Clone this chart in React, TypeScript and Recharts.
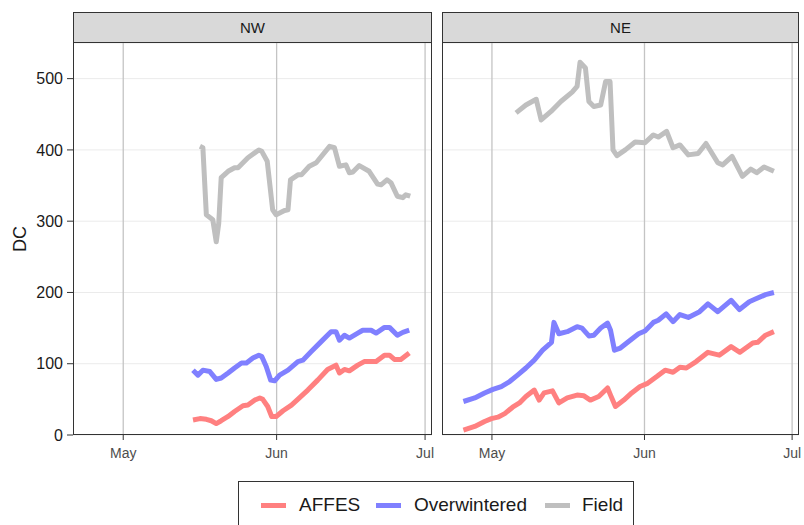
import { LineChart, Line, XAxis, YAxis, CartesianGrid, ReferenceLine } from "recharts";

// x = days after 1 May, y = DC
const monthTicks = [0, 31, 61];
const monthLabels = ["May", "Jun", "Jul"];
const dcTicks = [0, 100, 200, 300, 400, 500];

const nwAffes: [number, number][] = [
  [14.1, 21], [15.5, 23], [16.8, 22], [17.8, 20], [18.8, 16], [19.8, 20], [21.2, 26],
  [22.5, 33], [24.2, 41], [25.2, 42], [26.6, 49], [27.6, 52], [28.2, 50], [29.2, 40],
  [30, 26], [30.9, 26], [32.3, 34], [34, 42], [35.6, 52], [37.3, 63], [39.3, 77],
  [41.3, 92], [43, 98], [43.7, 87], [44.7, 92], [45.7, 90], [47.4, 98], [48.7, 103],
  [51.1, 103], [52.8, 112], [53.8, 112], [54.8, 106], [56.1, 106], [57.8, 115],
];
const nwOverwintered: [number, number][] = [
  [14.1, 91], [15.1, 84], [16.1, 91], [17.5, 89], [18.8, 78], [19.8, 80], [21.2, 87],
  [22.5, 94], [23.9, 101], [24.9, 101], [26.2, 108], [27.4, 112], [28, 110], [28.9, 96],
  [29.8, 77], [30.6, 76], [31.6, 84], [33.3, 91], [35.3, 103], [36.3, 105], [38, 117],
  [40, 131], [42, 145], [43, 145], [43.7, 133], [44.7, 140], [45.7, 136], [47.4, 143],
  [48.4, 147], [50.1, 147], [51.1, 143], [52.8, 151], [53.8, 151], [55.4, 140],
  [56.5, 144], [57.8, 147],
];
const nwField: [number, number][] = [
  [15.5, 405], [16.1, 403], [16.8, 309], [18.1, 302], [18.8, 271], [19.3, 297], [19.8, 361],
  [21.2, 370], [22.5, 375], [23.2, 375], [25.2, 389], [27.4, 400], [28, 398], [29.1, 384],
  [30.2, 316], [30.9, 309], [32.6, 315], [33.3, 316], [33.8, 358], [35.3, 365], [36, 365],
  [37.6, 377], [39, 382], [41.7, 405], [42.7, 403], [43.7, 377], [45, 379], [45.7, 368],
  [46.4, 369], [47.7, 378], [49.7, 370], [51.4, 352], [52.1, 351], [53.3, 358], [54.1, 354],
  [55.4, 335], [56.5, 333], [57.1, 337], [58, 335],
];

const neAffes: [number, number][] = [
  [-5.8, 7], [-3.5, 12], [-1.5, 19], [-0.1, 23], [1.2, 25], [2.6, 30], [4.2, 39], [5.6, 45],
  [6.9, 54], [8.6, 63], [9.6, 49], [10.6, 59], [12.3, 62], [13.6, 45], [15.3, 52], [17.3, 56],
  [18.7, 55], [20, 49], [21.7, 54], [23.5, 66], [24.1, 56], [25.1, 40], [26.8, 49], [28.4, 59],
  [30.1, 68], [31.5, 72], [33.5, 82], [35.2, 91], [36.8, 88], [38.2, 95], [39.5, 94],
  [41.5, 103], [43.9, 116], [46.2, 112], [48.6, 124], [50.4, 116], [53, 129], [54, 130],
  [55.6, 140], [57.3, 145],
];
const neOverwintered: [number, number][] = [
  [-5.8, 47], [-3.5, 52], [-1.5, 59], [0.2, 64], [1.9, 68], [3.6, 75], [5.2, 84], [6.9, 94],
  [8.6, 105], [10.3, 119], [12.1, 130], [12.6, 158], [13.6, 142], [15.3, 145], [17.3, 152],
  [18.3, 150], [19.7, 139], [20.7, 140], [22.1, 150], [23.5, 157], [24.1, 147], [24.9, 119],
  [26.1, 122], [28.1, 133], [29.8, 142], [31.1, 146], [32.8, 158], [33.8, 161], [35.4, 170],
  [36.8, 159], [38.2, 169], [39.9, 165], [42.2, 173], [43.9, 184], [45.9, 173], [48.6, 189],
  [50.3, 176], [52.3, 187], [53.3, 190], [55.6, 197], [57.3, 200],
];
const neField: [number, number][] = [
  [4.9, 452], [6.9, 463], [9, 471], [10, 442], [12, 454], [14, 468], [16.3, 481], [17.3, 489],
  [17.9, 523], [19, 515], [19.7, 468], [20.7, 461], [22.1, 463], [23.1, 496], [24, 496],
  [24.6, 400], [25.4, 392], [27.1, 400], [29.1, 411], [31.1, 410], [32.8, 421], [33.8, 418],
  [35.5, 426], [36.8, 403], [38.2, 407], [39.9, 393], [41.9, 395], [43.5, 409], [45.9, 382],
  [46.9, 379], [48.8, 391], [50.9, 363], [52.6, 373], [53.8, 368], [55.3, 376], [57.3, 370],
];

const seriesNames = ["AFFES", "Overwintered", "Field"];
const seriesColors = ["#ff8080", "#8080ff", "#bfbfbf"];

const toRows = (pts: [number, number][]) => pts.map(([d, v]) => ({ d, v }));

const FONT = "'Liberation Sans', Arial, sans-serif";
const X_DOMAIN = [-10.15, 62.4];

function Panel({
  name,
  series,
  left,
  width,
  plotLeft,
  plotRight,
  showY,
}: {
  name: string;
  series: [number, number][][];
  left: number;
  width: number;
  plotLeft: number;
  plotRight: number;
  showY: boolean;
}) {
  const plotW = width - plotLeft - plotRight;
  return (
    <div style={{ position: "absolute", left, top: 0, width, height: 470 }}>
      <LineChart
        width={width}
        height={470}
        margin={{ top: 43, right: plotRight, bottom: 0, left: showY ? 0 : plotLeft }}
      >
        <CartesianGrid vertical={false} stroke="#ebebeb" strokeWidth={1} />
        {monthTicks.map((t) => (
          <ReferenceLine key={t} x={t} stroke="#c4c4c4" strokeWidth={1.3} />
        ))}
        <XAxis
          type="number"
          dataKey="d"
          domain={X_DOMAIN}
          allowDataOverflow
          ticks={monthTicks}
          interval={0}
          tickFormatter={(t: number) => monthLabels[monthTicks.indexOf(t)]}
          axisLine={false}
          tickLine={{ stroke: "#333" }}
          tickSize={5}
          tickMargin={8}
          height={35}
          tick={{ fill: "#4d4d4d", fontSize: 14, fontFamily: FONT }}
        />
        <YAxis
          hide={!showY}
          domain={[0, 550]}
          ticks={dcTicks}
          interval={0}
          allowDataOverflow
          width={plotLeft}
          axisLine={false}
          tickLine={{ stroke: "#333" }}
          tickSize={6}
          tickMargin={4}
          tick={{ fill: "#1a1a1a", fontSize: 16, fontFamily: FONT }}
        />
        {series.map((pts, i) => (
          <Line
            key={seriesNames[i]}
            data={toRows(pts)}
            dataKey="v"
            type="linear"
            stroke={seriesColors[i]}
            strokeWidth={5}
            strokeLinejoin="round"
            dot={false}
            isAnimationActive={false}
          />
        ))}
      </LineChart>
      <div
        style={{
          position: "absolute",
          left: plotLeft,
          top: 12,
          width: plotW,
          height: 31,
          boxSizing: "border-box",
          background: "#d9d9d9",
          border: "1px solid #333",
          fontFamily: FONT,
          fontSize: 15,
          color: "#1a1a1a",
          display: "flex",
          alignItems: "center",
          justifyContent: "center",
        }}
      >
        {name}
      </div>
      <div
        style={{
          position: "absolute",
          left: plotLeft,
          top: 42,
          width: plotW,
          height: 393,
          boxSizing: "border-box",
          border: "1px solid #333",
          pointerEvents: "none",
        }}
      />
    </div>
  );
}

export default function App() {
  const keys = [261, 376, 545];
  const labels = [299, 414, 582];
  return (
    <div
      style={{
        position: "absolute",
        left: 0,
        top: 0,
        width: 804,
        height: 525,
        overflow: "hidden",
        background: "#fff",
        fontFamily: FONT,
      }}
    >
      <Panel
        name="NW"
        series={[nwAffes, nwOverwintered, nwField]}
        left={0}
        width={440}
        plotLeft={73}
        plotRight={8}
        showY
      />
      <Panel
        name="NE"
        series={[neAffes, neOverwintered, neField]}
        left={430}
        width={374}
        plotLeft={12}
        plotRight={5}
        showY={false}
      />
      <div
        style={{
          position: "absolute",
          left: 20,
          top: 239,
          transform: "translate(-50%, -50%) rotate(-90deg)",
          fontSize: 18,
          color: "#1a1a1a",
        }}
      >
        DC
      </div>
      <div
        style={{
          position: "absolute",
          left: 238,
          top: 481,
          width: 396,
          height: 60,
          boxSizing: "border-box",
          border: "1px solid #333",
        }}
      >
        {seriesNames.map((n, i) => (
          <div key={n}>
            <div
              style={{
                position: "absolute",
                left: keys[i] - 239,
                top: 21,
                width: 25,
                height: 4.5,
                background: seriesColors[i],
              }}
            />
            <div
              style={{
                position: "absolute",
                left: labels[i] - 239,
                top: 12,
                fontSize: 19,
                lineHeight: "22px",
                color: "#1a1a1a",
              }}
            >
              {n}
            </div>
          </div>
        ))}
      </div>
    </div>
  );
}
